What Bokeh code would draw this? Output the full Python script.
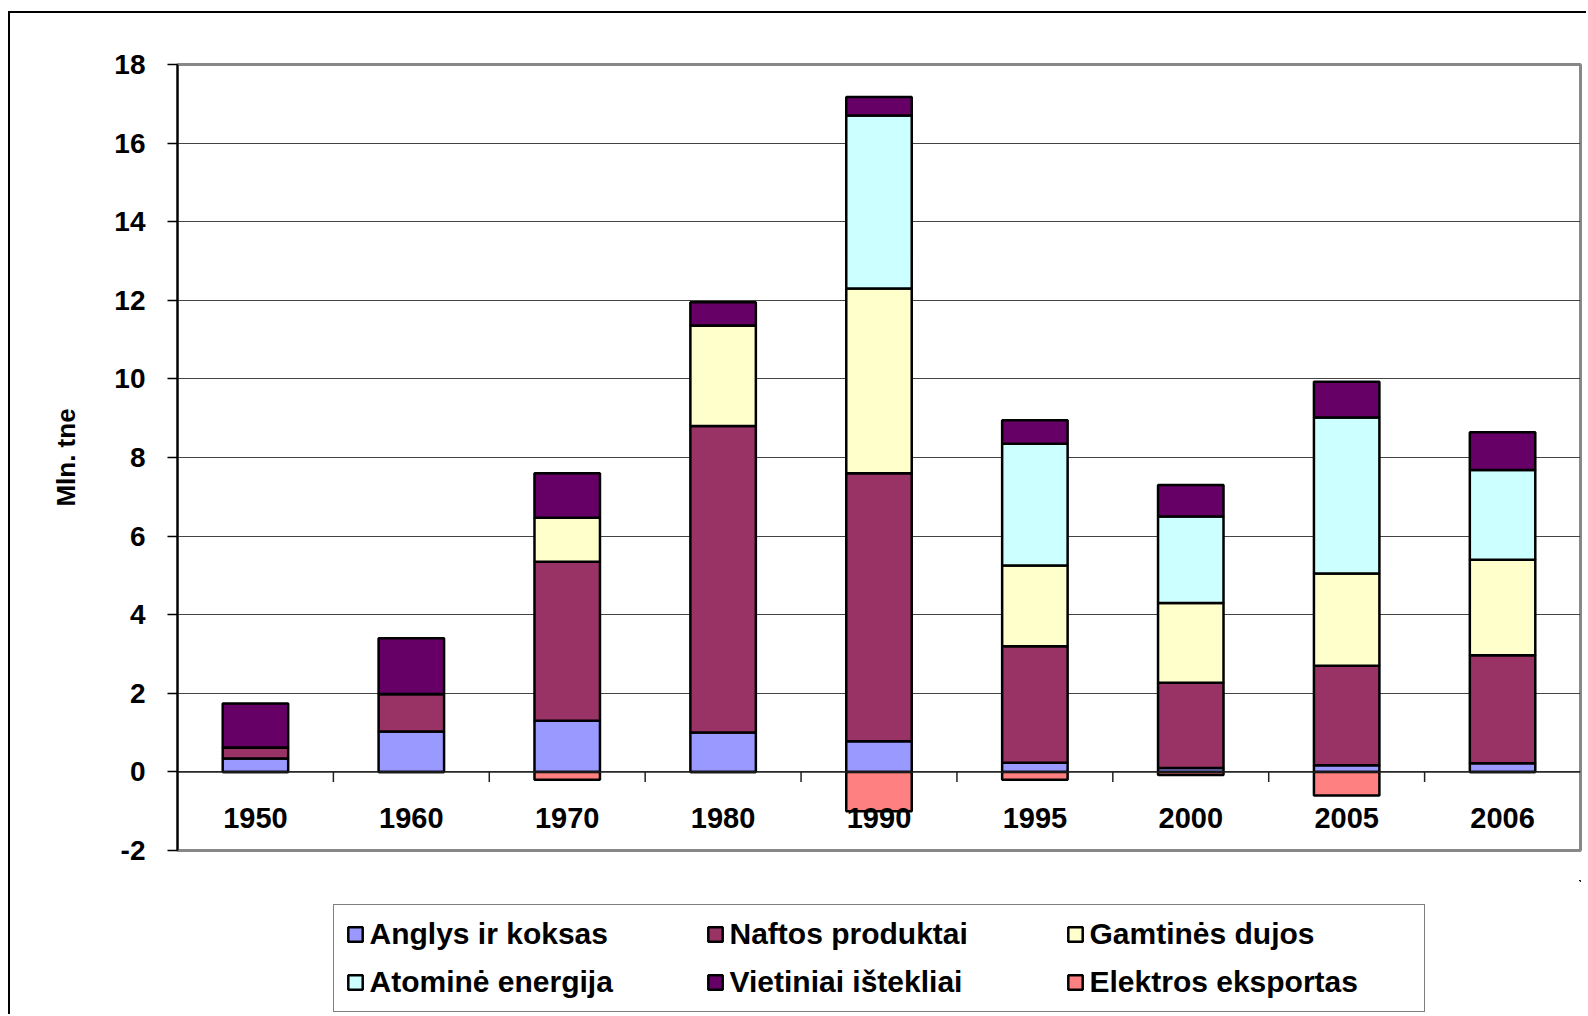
from bokeh.plotting import figure
from bokeh.layouts import column
from bokeh.models import (Range1d, FixedTicker, Legend, LegendItem, ColumnDataSource)
from bokeh.core.properties import value
from bokeh.embed import file_html
from bokeh.resources import INLINE

years = ["1950", "1960", "1970", "1980", "1990", "1995", "2000", "2005", "2006"]
anglys = [0.34, 1.03, 1.30, 1.00, 0.78, 0.23, 0.10, 0.17, 0.22]
naftos = [0.28, 0.95, 4.05, 7.80, 6.82, 2.97, 2.17, 2.53, 2.75]
gamtines = [0.0, 0.0, 1.12, 2.56, 4.70, 2.05, 2.03, 2.35, 2.43]
atomine = [0.0, 0.0, 0.0, 0.0, 4.40, 3.10, 2.20, 3.97, 2.28]
vietiniai = [1.12, 1.42, 1.13, 0.59, 0.47, 0.60, 0.80, 0.91, 0.96]
elektros = [0.0, 0.0, -0.20, 0.0, -1.00, -0.20, -0.08, -0.60, 0.0]
y_ticks = [-2, 0, 2, 4, 6, 8, 10, 12, 14, 16, 18]

series_names = ["Anglys ir koksas", "Naftos produktai", "Gamtinės dujos",
                "Atominė energija", "Vietiniai ištekliai", "Elektros eksportas"]
colors = ["#9999FF", "#993366", "#FFFFCC", "#CCFFFF", "#660066", "#FF8080"]

n = len(years)
xpos = [i + 0.5 for i in range(n)]
src = ColumnDataSource(dict(x=xpos, year=years, anglys=anglys, naftos=naftos, gamtines=gamtines,
                            atomine=atomine, vietiniai=vietiniai, elektros=elektros))
bounds = list(range(1, n))
bsrc = ColumnDataSource(dict(b=bounds))

FONT = "Liberation Sans"
W = 1586
BAR_W = 0.42
LW = 2.5

p = figure(width=W, height=880, x_range=Range1d(0, n),
           y_range=Range1d(-2, 18), output_backend="svg", toolbar_location=None,
           x_axis_location=None, min_border_left=177, min_border_top=64,
           min_border_right=6, min_border_bottom=30)
p.outline_line_color = "#888888"
p.outline_line_width = 3
p.background_fill_color = "white"
p.border_fill_color = None
p.styles = {"background-image": "linear-gradient(#000,#000), linear-gradient(#000,#000)",
            "background-position": "8px 11px, 8px 11px",
            "background-size": "100% 2px, 2px 100%",
            "background-repeat": "no-repeat"}

# grid
p.xgrid.visible = False
p.ygrid.ticker = FixedTicker(ticks=y_ticks)
p.ygrid.grid_line_color = "#444444"
p.ygrid.grid_line_width = 1

stack_cols = ["anglys", "naftos", "gamtines", "atomine", "vietiniai"]
p.vbar_stack(stack_cols, x="x", width=BAR_W, source=src, fill_color=colors[:5],
             line_color="black", line_width=LW)
p.vbar(x="x", top=0, bottom="elektros", width=BAR_W, source=src,
       fill_color=colors[5], line_color="black", line_width=LW)

# category axis line at zero, boundary ticks and labels
p.segment(x0=0, y0=0, x1=n, y1=0, line_color="#222222", line_width=1.5)
p.segment(x0="b", y0=0, x1="b", y1=-0.26, source=bsrc, line_color="#222222", line_width=1.5)
p.text(x="x", y=-1.17, text="year", source=src, text_align="center", text_baseline="middle",
       text_font=value(FONT), text_font_style="bold", text_font_size="29px", text_color="black")

# y axis
ya = p.yaxis[0]
ya.ticker = FixedTicker(ticks=y_ticks)
ya.major_label_overrides = {-2: "-2"}
ya.major_tick_out = 10
ya.major_tick_in = 0
ya.minor_tick_line_color = None
ya.axis_line_color = "black"
ya.axis_line_width = 2
ya.major_tick_line_color = "black"
ya.major_tick_line_width = 1.5
ya.major_label_text_font = FONT
ya.major_label_text_font_style = "bold"
ya.major_label_text_font_size = "28px"
ya.major_label_text_color = "black"
ya.major_label_standoff = 22
ya.axis_label = "Mln. tne"
ya.axis_label_text_font = FONT
ya.axis_label_text_font_style = "bold"
ya.axis_label_text_font_size = "26px"
ya.axis_label_text_color = "black"
ya.axis_label_standoff = 30

# legend panel (legend swatches come from hidden renderers outside the visible range)
pl = figure(width=W, height=134, x_range=Range1d(0, 1), y_range=Range1d(0, 1),
            output_backend="svg", toolbar_location=None, x_axis_location=None,
            y_axis_location=None, min_border_left=177, min_border_right=6,
            min_border_top=0, min_border_bottom=0)
pl.outline_line_color = None
pl.xgrid.visible = False
pl.ygrid.visible = False
pl.border_fill_color = None
pl.background_fill_color = None
pl.styles = {"background-image": "linear-gradient(#000,#000)",
             "background-position": "8px 0px",
             "background-size": "2px 100%",
             "background-repeat": "no-repeat"}
hidden = ColumnDataSource(dict(x=[5.0], top=[5.0], bottom=[4.0]))
leg_rs = [pl.vbar(x="x", top="top", bottom="bottom", width=0.1, source=hidden, fill_color=c,
                  line_color="black", line_width=LW) for c in colors]

legend = Legend(items=[LegendItem(label=s, renderers=[r]) for s, r in zip(series_names, leg_rs)],
                ncols=3, orientation="horizontal", location="top_center",
                label_text_font=FONT, label_text_font_style="bold", label_text_font_size="30px",
                label_text_color="black",
                glyph_width=18, glyph_height=18, label_standoff=6, label_width=322,
                spacing=14, padding=12, margin=24, border_line_color="black",
                border_line_width=1.5, background_fill_color="white")
pl.add_layout(legend, "center")

layout = column(p, pl, spacing=0)
open("out.html", "w").write(file_html(layout, INLINE))
